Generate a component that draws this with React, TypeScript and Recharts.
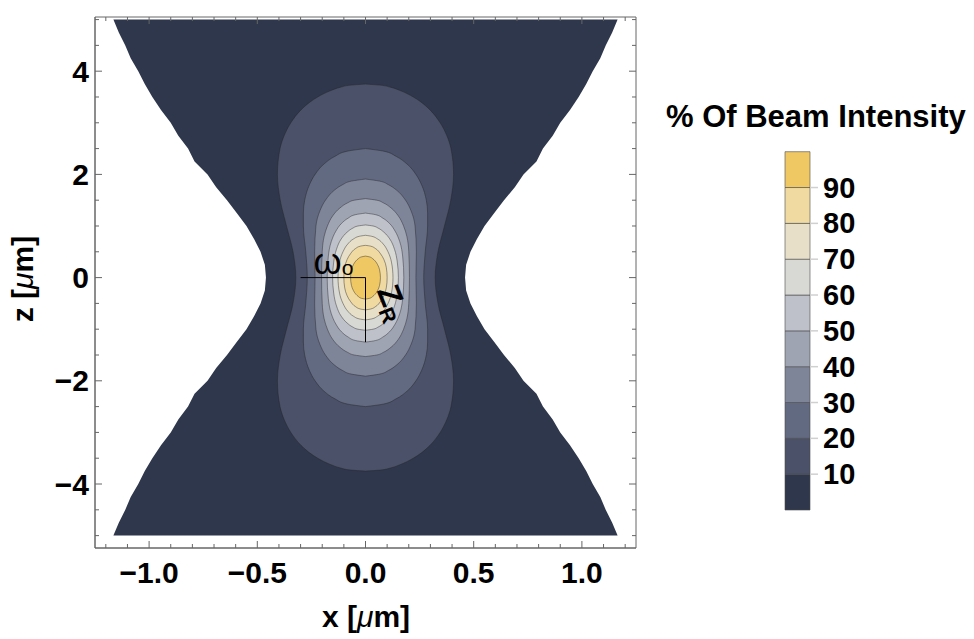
import { ComposedChart, Area, XAxis, YAxis, ReferenceLine, ReferenceArea, BarChart, Bar } from 'recharts';

// contour levels (% of beam intensity) and the colour of each band
const levels = [10, 20, 30, 40, 50, 60, 70, 80, 90];
const bandSpans = [10, 10, 10, 10, 10, 10, 10, 10, 10, 10];
const bandColors = ['#2f374c', '#4a5168', '#626a82', '#7f8599', '#9fa4b3', '#bec1ca', '#d8d8d4', '#e8dfc8', '#f0daa2', '#efc864'];

// axis ticks
const xTicks = [-1.2, -1.1, -1, -0.9, -0.8, -0.7, -0.6, -0.5, -0.4, -0.3, -0.2, -0.1, 0, 0.1, 0.2, 0.3, 0.4, 0.5, 0.6, 0.7, 0.8, 0.9, 1, 1.1, 1.2];
const xMajor = [-1, -0.5, 0, 0.5, 1];
const zTicks = [-5, -4.5, -4, -3.5, -3, -2.5, -2, -1.5, -1, -0.5, 0, 0.5, 1, 1.5, 2, 2.5, 3, 3.5, 4, 4.5, 5];
const zMajor = [-4, -2, 0, 2, 4];

// beam waist and Rayleigh range markers (µm)
const waist = 0.3;
const rayleigh = 1.25;

// half-widths (µm) of each contour, read at heights z >= 0 (the picture is symmetric)
const edgeZ = [0, 0.25, 0.5, 0.75, 1, 1.25, 1.5, 1.75, 2, 2.25, 2.5, 2.75, 3, 3.25, 3.5, 3.75, 4, 4.25, 4.5, 4.75, 5];
const edgeW = [0.46, 0.465, 0.485, 0.515, 0.55, 0.595, 0.64, 0.69, 0.73, 0.79, 0.82, 0.865, 0.9, 0.945, 0.985, 1.02, 1.05, 1.085, 1.11, 1.14, 1.165];
const c10Z = [0, 0.5, 1, 1.5, 2, 2.5, 2.75, 3, 3.25, 3.4, 3.5, 3.625, 3.69, 3.73, 3.75];
const c10W = [0.322, 0.335, 0.365, 0.394, 0.407, 0.395, 0.376, 0.345, 0.298, 0.257, 0.221, 0.16, 0.115, 0.067, 0];
const c20Z = [0, 0.5, 1, 1.25, 1.5, 1.8, 2, 2.2, 2.35, 2.45, 2.5];
const c20W = [0.269, 0.276, 0.287, 0.287, 0.281, 0.259, 0.233, 0.192, 0.141, 0.084, 0];
const c30Z = [0, 0.5, 1, 1.3, 1.5, 1.7, 1.8, 1.87, 1.91];
const c30W = [0.233, 0.235, 0.229, 0.21, 0.185, 0.142, 0.106, 0.065, 0];
const c40Z = [0, 0.5, 0.8, 1, 1.2, 1.35, 1.45, 1.5, 1.53];
const c40W = [0.203, 0.2, 0.191, 0.176, 0.151, 0.118, 0.082, 0.052, 0];
const c50Z = [0, 0.4, 0.7, 0.9, 1.05, 1.15, 1.22, 1.25];
const c50W = [0.177, 0.172, 0.158, 0.137, 0.111, 0.081, 0.046, 0];
const c60Z = [0, 0.3, 0.55, 0.75, 0.88, 0.96, 1.0, 1.02];
const c60W = [0.152, 0.147, 0.134, 0.112, 0.085, 0.058, 0.035, 0];
const c70Z = [0, 0.3, 0.5, 0.65, 0.75, 0.8, 0.82];
const c70W = [0.127, 0.12, 0.104, 0.082, 0.055, 0.029, 0];
const c80Z = [0, 0.2, 0.35, 0.47, 0.56, 0.61, 0.625];
const c80W = [0.1, 0.096, 0.085, 0.068, 0.047, 0.023, 0];
const c90Z = [0, 0.15, 0.25, 0.32, 0.37, 0.4, 0.417];
const c90W = [0.069, 0.065, 0.056, 0.045, 0.032, 0.02, 0];

const FONT = '"Liberation Sans", Arial, sans-serif';
const PLOT_TOP = 17;
const PLOT_RIGHT = 636;

// mirror the z >= 0 readings into a ranged series [-w, w] over the full z span
const ring = (zs: number[], ws: number[]) => {
  const up = zs.map((z, i) => ({ z, r: [-ws[i], ws[i]] }));
  const down = up.slice(1).map((p) => ({ z: -p.z, r: p.r })).reverse();
  return [...down, ...up];
};

const contours = [
  ring(c10Z, c10W), ring(c20Z, c20W), ring(c30Z, c30W), ring(c40Z, c40W), ring(c50Z, c50W),
  ring(c60Z, c60W), ring(c70Z, c70W), ring(c80Z, c80W), ring(c90Z, c90W),
];

const isMajor = (list: number[], v: number) => list.some((m) => Math.abs(m - v) < 1e-6);
const fmt = (v: number, d: number) => v.toFixed(d).replace('-', '\u2212');

const XTick = (props: any) => {
  const { x, y, payload } = props;
  const major = isMajor(xMajor, payload.value);
  const len = major ? 7 : 4;
  return (
    <g>
      <line x1={x} x2={x} y1={y} y2={y - len} stroke="#666" />
      <line x1={x} x2={x} y1={PLOT_TOP} y2={PLOT_TOP + len} stroke="#666" />
      {major && (
        <text x={x} y={y + 24} textAnchor="middle" dominantBaseline="central" fontFamily={FONT} fontWeight="bold" fontSize={30} fill="#000">
          {fmt(payload.value, 1)}
        </text>
      )}
    </g>
  );
};

const ZTick = (props: any) => {
  const { x, y, payload } = props;
  const major = isMajor(zMajor, payload.value);
  const len = major ? 7 : 4;
  return (
    <g>
      <line x1={x} x2={x + len} y1={y} y2={y} stroke="#666" />
      <line x1={PLOT_RIGHT} x2={PLOT_RIGHT - len} y1={y} y2={y} stroke="#666" />
      {major && (
        <text x={x - 6} y={y} textAnchor="end" dominantBaseline="central" fontFamily={FONT} fontWeight="bold" fontSize={30} fill="#000">
          {fmt(payload.value, 0)}
        </text>
      )}
    </g>
  );
};

const CbTick = (props: any) => {
  const { x, y, payload } = props;
  return (
    <g>
      <line x1={x} x2={x + 8} y1={y} y2={y} stroke="#d0d0d0" strokeWidth={1.5} />
      <text x={x + 13} y={y} textAnchor="start" dominantBaseline="central" fontFamily={FONT} fontWeight="bold" fontSize={29} fill="#000">
        {payload.value}
      </text>
    </g>
  );
};

const WaistLabel = (props: any) => {
  const { x, y } = props.viewBox;
  return (
    <text x={x + 13} y={y - 4} fontFamily={FONT} fontSize={36} fill="#000">
      ω<tspan fontSize={21} dy={1}>o</tspan>
    </text>
  );
};

const RayleighLabel = (props: any) => {
  const { x, y } = props.viewBox;
  const lx = x + 11;
  const ly = y + 13;
  return (
    <text x={lx} y={ly} transform={`rotate(68 ${lx} ${ly})`} fontFamily={FONT} fontWeight="bold" fontSize={32} fill="#000">
      Z<tspan fontSize={21} dy={6}>R</tspan>
    </text>
  );
};

const cbRow = [{ name: 'band', ...Object.fromEntries(bandSpans.map((v, i) => [`b${i}`, v])) }];

export default function App() {
  return (
    <div style={{ position: 'absolute', left: 0, top: 0, width: 974, height: 639, background: '#fff' }}>
      <ComposedChart layout="vertical" width={974} height={639} margin={{ top: PLOT_TOP, right: 974 - PLOT_RIGHT, bottom: 0, left: 0 }}>
        <XAxis
          type="number"
          domain={[-1.25, 1.25]}
          allowDataOverflow
          ticks={xTicks}
          interval={0}
          tickSize={0}
          tickMargin={0}
          tickLine={false}
          height={91}
          axisLine={{ stroke: '#666' }}
          tick={<XTick />}
        />
        <YAxis
          type="number"
          dataKey="z"
          domain={[-5.24, 5.05]}
          reversed
          allowDataOverflow
          ticks={zTicks}
          interval={0}
          tickSize={0}
          tickMargin={0}
          tickLine={false}
          width={95}
          axisLine={{ stroke: '#666' }}
          tick={<ZTick />}
        />
        <Area
          data={ring(edgeZ, edgeW)}
          dataKey="r"
          type="linear"
          fill={bandColors[0]}
          fillOpacity={1}
          stroke="none"
          isAnimationActive={false}
        />
        {contours.map((d, i) => (
          <Area
            key={levels[i]}
            data={d}
            dataKey="r"
            type="monotone"
            fill={bandColors[i + 1]}
            fillOpacity={1}
            stroke="#222"
            strokeOpacity={0.55}
            strokeWidth={0.8}
            isAnimationActive={false}
          />
        ))}
        <ReferenceLine
          segment={[{ x: -waist, y: 0 }, { x: 0, y: 0 }]}
          stroke="#000"
          strokeWidth={1}
          label={<WaistLabel />}
        />
        <ReferenceLine
          segment={[{ x: 0, y: 0 }, { x: 0, y: -rayleigh }]}
          stroke="#000"
          strokeWidth={1}
          label={<RayleighLabel />}
        />
        <ReferenceArea x1={-1.25} x2={1.25} y1={-5.24} y2={5.05} fill="none" stroke="#666" strokeWidth={1} />
      </ComposedChart>

      <div style={{ position: 'absolute', left: 760, top: 130 }}>
        <BarChart width={214} height={400} data={cbRow} margin={{ top: 21.7, right: 0, bottom: 20, left: 25 }} barCategoryGap={0} barGap={0}>
          <XAxis dataKey="name" type="category" hide />
          <YAxis
            orientation="right"
            type="number"
            domain={[0, 100]}
            ticks={levels}
            interval={0}
            width={164}
            tickSize={0}
            tickMargin={0}
            tickLine={false}
            axisLine={false}
            tick={<CbTick />}
          />
          {bandSpans.map((_, i) => (
            <Bar key={i} dataKey={`b${i}`} stackId="cb" fill={bandColors[i]} stroke="#4a4a4a" strokeWidth={0.6} isAnimationActive={false} />
          ))}
        </BarChart>
      </div>

      <svg width={974} height={639} style={{ position: 'absolute', left: 0, top: 0, pointerEvents: 'none' }}>
        <text x={666} y={127} fontFamily={FONT} fontWeight="bold" fontSize={31} fill="#000">
          % Of Beam Intensity
        </text>
        <text x={366} y={627} textAnchor="middle" fontFamily={FONT} fontWeight="bold" fontSize={30} fill="#000">
          x [<tspan fontStyle="italic" fontWeight="normal">μ</tspan>m]
        </text>
        <text x={33} y={279} textAnchor="middle" transform="rotate(-90 33 279)" fontFamily={FONT} fontWeight="bold" fontSize={30} fill="#000">
          z [<tspan fontStyle="italic" fontWeight="normal">μ</tspan>m]
        </text>
      </svg>
    </div>
  );
}
